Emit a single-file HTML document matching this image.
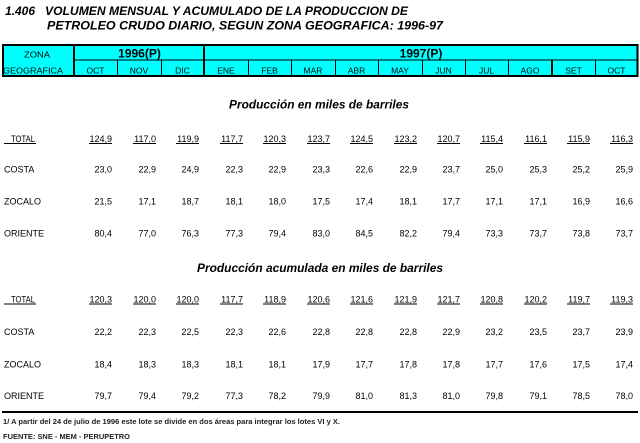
<!DOCTYPE html>
<html><head><meta charset="utf-8"><style>
html,body{margin:0;padding:0;background:#fff;width:640px;height:443px;overflow:hidden}
svg{display:block}
text{font-family:"Liberation Sans",Arial,sans-serif;fill:#000}
.t{font-weight:bold;font-style:italic;font-size:12px}
.h{font-size:8.5px}
.v{font-size:9px;text-anchor:end}
.l{font-size:9px}
.f{font-size:7px;font-weight:bold;fill:#222}
</style></head><body>
<svg width="640" height="443" viewBox="0 0 640 443" xmlns="http://www.w3.org/2000/svg">
<!-- Title -->
<text class="t" x="5" y="15" textLength="30" lengthAdjust="spacingAndGlyphs">1.406</text>
<text class="t" x="45" y="15" textLength="363" lengthAdjust="spacingAndGlyphs">VOLUMEN MENSUAL Y ACUMULADO DE LA PRODUCCION DE</text>
<text class="t" x="47" y="29.5" textLength="396" lengthAdjust="spacingAndGlyphs">PETROLEO CRUDO DIARIO, SEGUN ZONA GEOGRAFICA: 1996-97</text>

<!-- Header table -->
<rect x="2" y="44" width="636" height="33" fill="#00ffff"/>
<rect x="2" y="44" width="636" height="2" fill="#000"/>
<rect x="2" y="75" width="636" height="2" fill="#000"/>
<rect x="2" y="44" width="2" height="33" fill="#000"/>
<rect x="636.5" y="44" width="2" height="33" fill="#000"/>
<rect x="73" y="44" width="2" height="33" fill="#000"/>
<rect x="203" y="44" width="2" height="33" fill="#000"/>
<rect x="74" y="59.5" width="564" height="1" fill="#000"/>
<g fill="#000">
<rect x="117" y="60" width="1" height="16"/>
<rect x="161" y="60" width="1" height="16"/>
<rect x="248" y="60" width="1" height="16"/>
<rect x="291" y="60" width="1" height="16"/>
<rect x="335" y="60" width="1" height="16"/>
<rect x="378" y="60" width="1" height="16"/>
<rect x="422" y="60" width="1" height="16"/>
<rect x="465" y="60" width="1" height="16"/>
<rect x="508" y="60" width="1" height="16"/>
<rect x="551" y="60" width="2" height="16"/>
<rect x="595" y="60" width="1" height="16"/>
</g>
<text class="h" x="37" y="57.3" text-anchor="middle" textLength="26" lengthAdjust="spacingAndGlyphs">ZONA</text>
<text class="h" x="3" y="73.3" textLength="60" lengthAdjust="spacingAndGlyphs">GEOGRAFICA</text>
<text x="139.5" y="57.3" text-anchor="middle" style="font-weight:bold;font-size:12px">1996(P)</text>
<text x="421" y="57.3" text-anchor="middle" style="font-weight:bold;font-size:12px">1997(P)</text>
<g class="h" text-anchor="middle">
<text class="h" x="95.5" y="73.3" text-anchor="middle">OCT</text>
<text class="h" x="139" y="73.3" text-anchor="middle">NOV</text>
<text class="h" x="182.5" y="73.3" text-anchor="middle">DIC</text>
<text class="h" x="226" y="73.3" text-anchor="middle">ENE</text>
<text class="h" x="269.5" y="73.3" text-anchor="middle">FEB</text>
<text class="h" x="313" y="73.3" text-anchor="middle">MAR</text>
<text class="h" x="356.5" y="73.3" text-anchor="middle">ABR</text>
<text class="h" x="400" y="73.3" text-anchor="middle">MAY</text>
<text class="h" x="443.5" y="73.3" text-anchor="middle">JUN</text>
<text class="h" x="486.5" y="73.3" text-anchor="middle">JUL</text>
<text class="h" x="530" y="73.3" text-anchor="middle">AGO</text>
<text class="h" x="573.5" y="73.3" text-anchor="middle">SET</text>
<text class="h" x="616.5" y="73.3" text-anchor="middle">OCT</text>
</g>

<!-- Section 1 -->
<text class="t" x="229" y="108.5" textLength="180" lengthAdjust="spacingAndGlyphs">Producción en miles de barriles</text>

<text class="l" x="11" y="142" textLength="24" lengthAdjust="spacingAndGlyphs">TOTAL</text>
<rect x="4" y="143" width="32" height="1" fill="#000"/>
<text class="l" x="4" y="172.5">COSTA</text>
<text class="l" x="4" y="204.5">ZOCALO</text>
<text class="l" x="4" y="236.5">ORIENTE</text>

<g>
<text class="v" x="112" y="142">124,9</text>
<text class="v" x="156" y="142">117,0</text>
<text class="v" x="199" y="142">119,9</text>
<text class="v" x="243" y="142">117,7</text>
<text class="v" x="286" y="142">120,3</text>
<text class="v" x="330" y="142">123,7</text>
<text class="v" x="373" y="142">124,5</text>
<text class="v" x="417" y="142">123,2</text>
<text class="v" x="460" y="142">120,7</text>
<text class="v" x="503" y="142">115,4</text>
<text class="v" x="547" y="142">116,1</text>
<text class="v" x="590" y="142">115,9</text>
<text class="v" x="633" y="142">116,3</text>
</g>
<g fill="#000">
<rect x="89" y="143" width="23" height="1"/>
<rect x="133" y="143" width="23" height="1"/>
<rect x="176" y="143" width="23" height="1"/>
<rect x="220" y="143" width="23" height="1"/>
<rect x="263" y="143" width="23" height="1"/>
<rect x="307" y="143" width="23" height="1"/>
<rect x="350" y="143" width="23" height="1"/>
<rect x="394" y="143" width="23" height="1"/>
<rect x="437" y="143" width="23" height="1"/>
<rect x="480" y="143" width="23" height="1"/>
<rect x="524" y="143" width="23" height="1"/>
<rect x="567" y="143" width="23" height="1"/>
<rect x="610" y="143" width="23" height="1"/>
</g>
<g>
<text class="v" x="112" y="172.5">23,0</text>
<text class="v" x="156" y="172.5">22,9</text>
<text class="v" x="199" y="172.5">24,9</text>
<text class="v" x="243" y="172.5">22,3</text>
<text class="v" x="286" y="172.5">22,9</text>
<text class="v" x="330" y="172.5">23,3</text>
<text class="v" x="373" y="172.5">22,6</text>
<text class="v" x="417" y="172.5">22,9</text>
<text class="v" x="460" y="172.5">23,7</text>
<text class="v" x="503" y="172.5">25,0</text>
<text class="v" x="547" y="172.5">25,3</text>
<text class="v" x="590" y="172.5">25,2</text>
<text class="v" x="633" y="172.5">25,9</text>
</g>
<g>
<text class="v" x="112" y="204.5">21,5</text>
<text class="v" x="156" y="204.5">17,1</text>
<text class="v" x="199" y="204.5">18,7</text>
<text class="v" x="243" y="204.5">18,1</text>
<text class="v" x="286" y="204.5">18,0</text>
<text class="v" x="330" y="204.5">17,5</text>
<text class="v" x="373" y="204.5">17,4</text>
<text class="v" x="417" y="204.5">18,1</text>
<text class="v" x="460" y="204.5">17,7</text>
<text class="v" x="503" y="204.5">17,1</text>
<text class="v" x="547" y="204.5">17,1</text>
<text class="v" x="590" y="204.5">16,9</text>
<text class="v" x="633" y="204.5">16,6</text>
</g>
<g>
<text class="v" x="112" y="236.5">80,4</text>
<text class="v" x="156" y="236.5">77,0</text>
<text class="v" x="199" y="236.5">76,3</text>
<text class="v" x="243" y="236.5">77,3</text>
<text class="v" x="286" y="236.5">79,4</text>
<text class="v" x="330" y="236.5">83,0</text>
<text class="v" x="373" y="236.5">84,5</text>
<text class="v" x="417" y="236.5">82,2</text>
<text class="v" x="460" y="236.5">79,4</text>
<text class="v" x="503" y="236.5">73,3</text>
<text class="v" x="547" y="236.5">73,7</text>
<text class="v" x="590" y="236.5">73,8</text>
<text class="v" x="633" y="236.5">73,7</text>
</g>

<!-- Section 2 -->
<text class="t" x="197" y="272" textLength="246" lengthAdjust="spacingAndGlyphs">Producción acumulada en miles de barriles</text>

<text class="l" x="11" y="302.5" textLength="24" lengthAdjust="spacingAndGlyphs">TOTAL</text>
<rect x="4" y="303.5" width="32" height="1" fill="#000"/>
<text class="l" x="4" y="335">COSTA</text>
<text class="l" x="4" y="367.5">ZOCALO</text>
<text class="l" x="4" y="399">ORIENTE</text>

<g>
<text class="v" x="112" y="302.5">120,3</text>
<text class="v" x="156" y="302.5">120,0</text>
<text class="v" x="199" y="302.5">120,0</text>
<text class="v" x="243" y="302.5">117,7</text>
<text class="v" x="286" y="302.5">118,9</text>
<text class="v" x="330" y="302.5">120,6</text>
<text class="v" x="373" y="302.5">121,6</text>
<text class="v" x="417" y="302.5">121,9</text>
<text class="v" x="460" y="302.5">121,7</text>
<text class="v" x="503" y="302.5">120,8</text>
<text class="v" x="547" y="302.5">120,2</text>
<text class="v" x="590" y="302.5">119,7</text>
<text class="v" x="633" y="302.5">119,3</text>
</g>
<g fill="#000">
<rect x="89" y="303.5" width="23" height="1"/>
<rect x="133" y="303.5" width="23" height="1"/>
<rect x="176" y="303.5" width="23" height="1"/>
<rect x="220" y="303.5" width="23" height="1"/>
<rect x="263" y="303.5" width="23" height="1"/>
<rect x="307" y="303.5" width="23" height="1"/>
<rect x="350" y="303.5" width="23" height="1"/>
<rect x="394" y="303.5" width="23" height="1"/>
<rect x="437" y="303.5" width="23" height="1"/>
<rect x="480" y="303.5" width="23" height="1"/>
<rect x="524" y="303.5" width="23" height="1"/>
<rect x="567" y="303.5" width="23" height="1"/>
<rect x="610" y="303.5" width="23" height="1"/>
</g>
<g>
<text class="v" x="112" y="335">22,2</text>
<text class="v" x="156" y="335">22,3</text>
<text class="v" x="199" y="335">22,5</text>
<text class="v" x="243" y="335">22,3</text>
<text class="v" x="286" y="335">22,6</text>
<text class="v" x="330" y="335">22,8</text>
<text class="v" x="373" y="335">22,8</text>
<text class="v" x="417" y="335">22,8</text>
<text class="v" x="460" y="335">22,9</text>
<text class="v" x="503" y="335">23,2</text>
<text class="v" x="547" y="335">23,5</text>
<text class="v" x="590" y="335">23,7</text>
<text class="v" x="633" y="335">23,9</text>
</g>
<g>
<text class="v" x="112" y="367.5">18,4</text>
<text class="v" x="156" y="367.5">18,3</text>
<text class="v" x="199" y="367.5">18,3</text>
<text class="v" x="243" y="367.5">18,1</text>
<text class="v" x="286" y="367.5">18,1</text>
<text class="v" x="330" y="367.5">17,9</text>
<text class="v" x="373" y="367.5">17,7</text>
<text class="v" x="417" y="367.5">17,8</text>
<text class="v" x="460" y="367.5">17,8</text>
<text class="v" x="503" y="367.5">17,7</text>
<text class="v" x="547" y="367.5">17,6</text>
<text class="v" x="590" y="367.5">17,5</text>
<text class="v" x="633" y="367.5">17,4</text>
</g>
<g>
<text class="v" x="112" y="399">79,7</text>
<text class="v" x="156" y="399">79,4</text>
<text class="v" x="199" y="399">79,2</text>
<text class="v" x="243" y="399">77,3</text>
<text class="v" x="286" y="399">78,2</text>
<text class="v" x="330" y="399">79,9</text>
<text class="v" x="373" y="399">81,0</text>
<text class="v" x="417" y="399">81,3</text>
<text class="v" x="460" y="399">81,0</text>
<text class="v" x="503" y="399">79,8</text>
<text class="v" x="547" y="399">79,1</text>
<text class="v" x="590" y="399">78,5</text>
<text class="v" x="633" y="399">78,0</text>
</g>

<!-- Footer -->
<rect x="2" y="411" width="636" height="2" fill="#000"/>
<text class="f" x="3" y="424" textLength="337" lengthAdjust="spacingAndGlyphs">1/ A partir del 24 de julio de 1996 este lote se divide en dos áreas para integrar los lotes VI y X.</text>
<text class="f" x="3" y="439" textLength="127" lengthAdjust="spacingAndGlyphs">FUENTE: SNE - MEM - PERUPETRO</text>
</svg>
</body></html>
